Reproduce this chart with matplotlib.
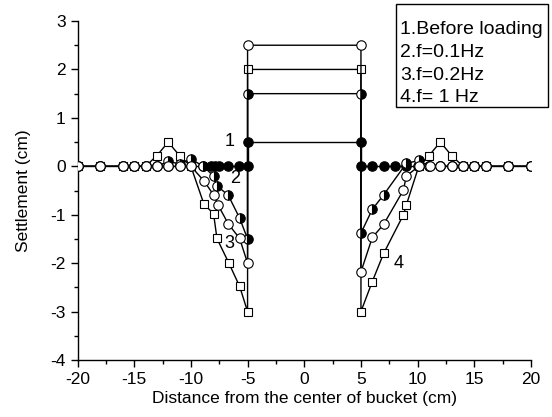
import matplotlib
matplotlib.use("Agg")
import matplotlib.pyplot as plt
from matplotlib.patches import Rectangle
from matplotlib.ticker import MultipleLocator

plt.rcParams["font.family"] = ["Liberation Sans", "DejaVu Sans"]
plt.rcParams["axes.unicode_minus"] = False

# --- Settlement profiles (cm), left side / bucket top / right side ---
# 1. before loading
x1 = [-20, -18, -16, -15, -14, -13, -12, -11, -10, -8.9, -8.2, -7.9, -7.5, -6.7, -5.8, -5, -5,
      5, 5, 6, 7, 8, 9, 10, 11, 12, 13, 14, 15, 16, 18, 20]
y1 = [0, 0, 0, 0, 0, 0, 0, 0, 0, 0, 0, 0, 0, 0, 0, 0, 0.5,
      0.5, 0, 0, 0, 0, 0, 0, 0, 0, 0, 0, 0, 0, 0, 0]
# 2. f = 0.1 Hz
x2 = [-20, -18, -16, -15, -14, -13, -12, -11, -10, -8.9, -8.0, -7.7, -6.7, -5.7, -5, -5,
      5, 5, 6, 7, 9, 10.1, 11, 12, 13, 14, 15, 16, 18, 20]
y2 = [0, 0, 0, 0, 0, 0, 0.1, 0.05, 0.15, 0, -0.2, -0.4, -0.6, -1.07, -1.5, 1.5,
      1.5, -1.38, -0.89, -0.59, 0.06, 0.12, 0, 0, 0, 0, 0, 0, 0, 0]
# 3. f = 0.2 Hz
x3 = [-20, -18, -16, -15, -14, -13, -12, -11, -10, -8.85, -8.0, -7.6, -6.7, -5.7, -5, -5,
      5, 5, 6, 7, 8.75, 9, 10.1, 11.1, 12, 13, 14, 15, 16, 18, 20]
y3 = [0, 0, 0, 0, 0, 0, 0, 0, 0, -0.3, -0.59, -0.8, -1.19, -1.49, -2.0, 2.5,
      2.5, -2.18, -1.47, -1.2, -0.49, -0.2, 0, 0, 0, 0, 0, 0, 0, 0, 0]
# 4. f = 1 Hz
x4 = [-20, -18, -16, -15, -14, -13, -12, -11, -10, -8.85, -8.0, -7.7, -6.65, -5.7, -5, -5,
      5, 5, 6, 7, 8.75, 9, 10.1, 11, 12, 13, 14, 15, 16, 18, 20]
y4 = [0, 0, 0, 0, 0, 0.22, 0.5, 0.22, 0, -0.78, -0.98, -1.49, -2.0, -2.48, -3.0, 2.0,
      2.0, -3.0, -2.38, -1.8, -1.0, -0.8, 0, 0.22, 0.5, 0.22, 0, 0, 0, 0, 0]

legend_lines = ["1.Before loading", "2.f=0.1Hz", "3.f=0.2Hz", "4.f= 1 Hz"]

fig = plt.figure(figsize=(5.52, 4.17), dpi=100)
ax = fig.add_axes([0.1404, 0.1367, 0.8216, 0.8129])

lw = 1.0
ms = 6.8
ax.plot(x1, y1, color="black", lw=lw, marker="o", ms=ms, mfc="black", mec="black",
        mew=0.8, zorder=2)
ax.plot(x4, y4, color="black", lw=lw, marker="s", ms=ms - 0.6, mfc="white", mec="black",
        mew=0.8, zorder=3)
ax.plot(x2, y2, color="black", lw=lw, marker="o", ms=ms, fillstyle="right",
        mfc="black", mfcalt="white", mec="black", mew=0.8, zorder=4)
ax.plot(x3, y3, color="black", lw=lw, marker="o", ms=ms, mfc="white", mec="black",
        mew=0.8, zorder=5)

# curve numbers
ax.text(-6.6, 0.52, "1", fontsize=13, ha="center", va="center")
ax.text(-6.1, -0.25, "2", fontsize=13, ha="center", va="center")
ax.text(-6.6, -1.6, "3", fontsize=13, ha="center", va="center")
ax.text(8.3, -2.0, "4", fontsize=13, ha="center", va="center")

ax.set_xlim(-20, 20)
ax.set_ylim(-4, 3)
ax.xaxis.set_major_locator(MultipleLocator(5))
ax.xaxis.set_minor_locator(MultipleLocator(2.5))
ax.yaxis.set_major_locator(MultipleLocator(1))
ax.yaxis.set_minor_locator(MultipleLocator(0.5))
ax.tick_params(which="both", direction="out", width=1, labelsize=12.5)
ax.tick_params(which="major", length=5)
ax.tick_params(which="minor", length=3)
for side in ("top", "right"):
    ax.spines[side].set_visible(False)
for side in ("left", "bottom"):
    ax.spines[side].set_linewidth(1)
ax.set_xlabel("Distance from the center of bucket (cm)", fontsize=12.5, labelpad=3)
ax.set_ylabel("Settlement (cm)", fontsize=12.5, labelpad=14)

# legend box in the upper right corner
fig.patches.append(Rectangle((396 / 552, 1 - 107 / 417), 152 / 552, 103 / 417,
                             transform=fig.transFigure, fill=False, ec="black", lw=1))
for i, line in enumerate(legend_lines):
    fig.text(400 / 552, 1 - (30 + 22.5 * i) / 417, line, fontsize=14, va="center")

fig.savefig("out.png", dpi=100)
